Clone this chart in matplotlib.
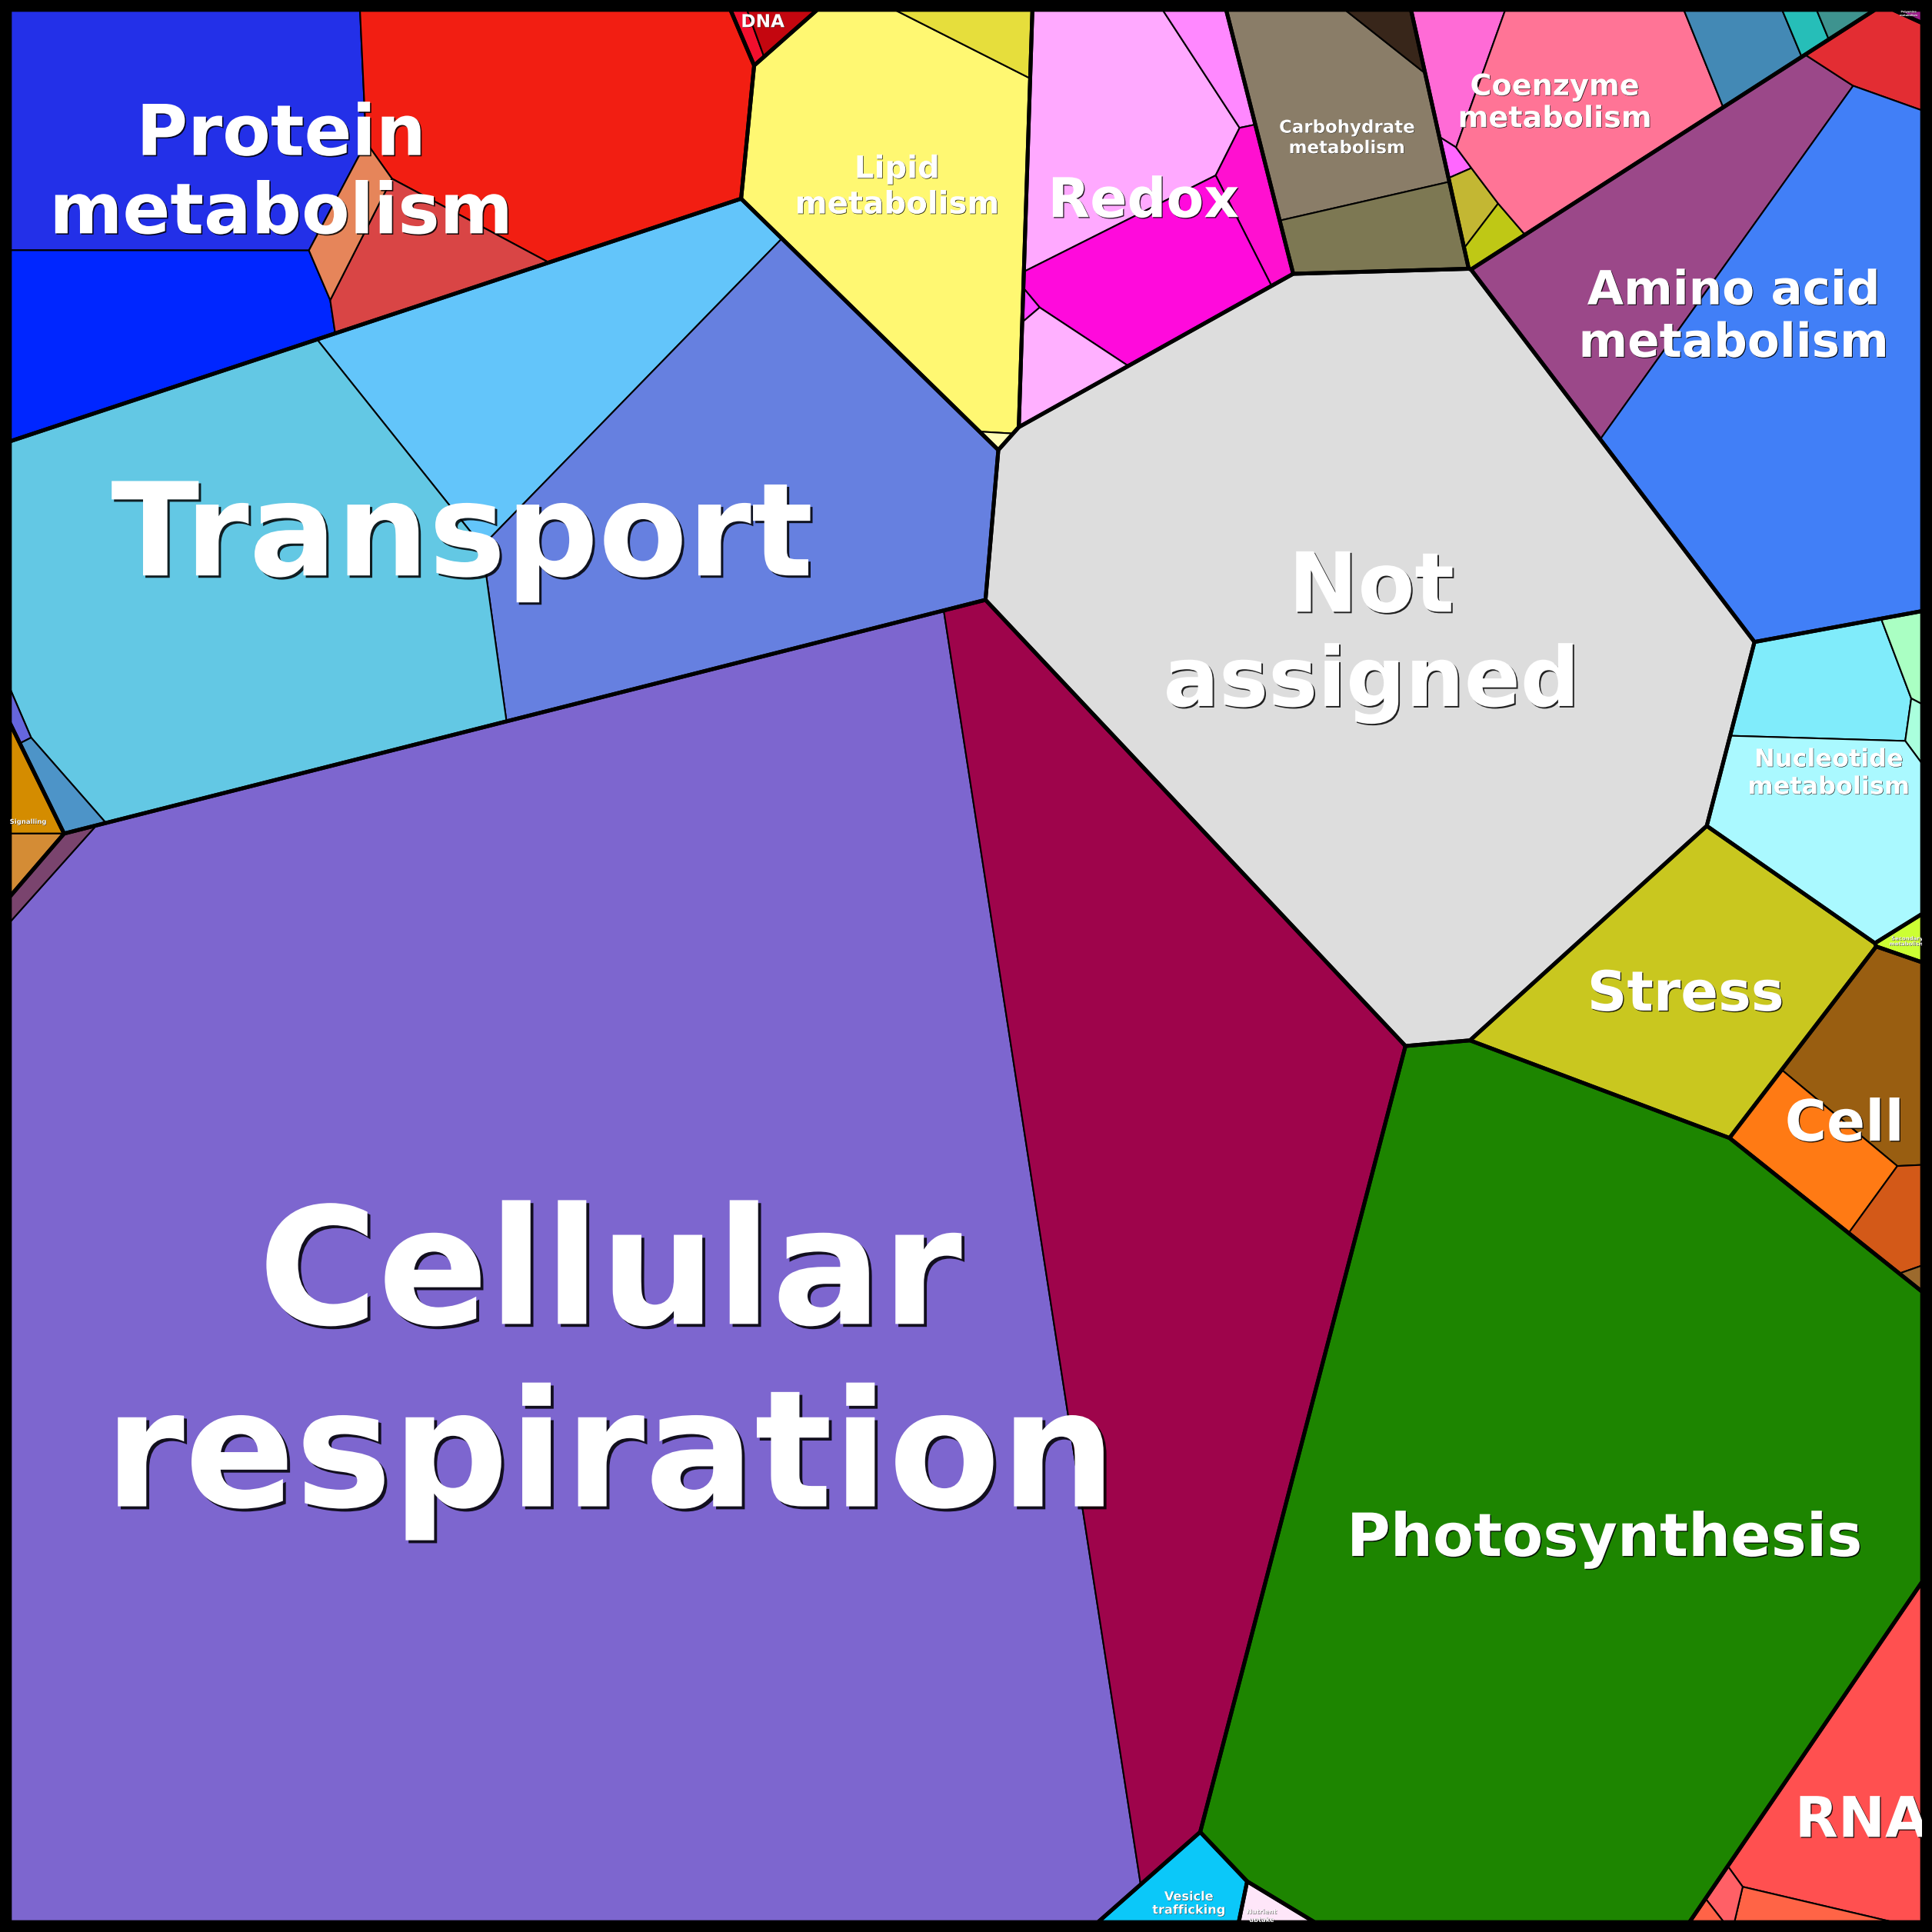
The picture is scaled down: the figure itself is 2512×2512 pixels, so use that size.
import math
import numpy as np
import matplotlib
matplotlib.use("Agg")
import matplotlib.pyplot as plt
from matplotlib.patches import Polygon, Rectangle
import matplotlib.patheffects as pe

# top level categories
groups = ["Protein metabolism", "DNA", "Lipid metabolism", "Redox",
          "Carbohydrate metabolism", "Coenzyme metabolism", "Amino acid metabolism",
          "Polyamine metabolism", "Not assigned", "Nucleotide metabolism",
          "Secondary metabolism", "Stress", "Cell", "Photosynthesis", "RNA",
          "Vesicle trafficking", "Nutrient uptake", "Cellular respiration",
          "Transport", "Signalling"]

# sub categories: parent index and share of the whole map (%)
sub_group = [0, 0, 0, 0, 0,
             1, 1,
             2, 2, 2,
             3, 3, 3, 3, 3, 3,
             4, 4, 4,
             5, 5, 5, 5, 5, 5, 5, 5,
             6, 6, 6,
             7,
             8,
             9, 9, 9, 9,
             10,
             11,
             12, 12, 12, 12,
             13,
             14, 14, 14, 14,
             15,
             16,
             17, 17, 17,
             18, 18, 18, 18, 18,
             19, 19]
sub_share = [2.242, 1.191, 2.199, 0.433, 0.144,
             0.021, 0.045,
             2.295, 0.128, 0.008,
             1.055, 0.127, 0.157, 0.695, 0.008, 0.187,
             0.890, 0.057, 0.339,
             0.201, 0.017, 0.058, 0.051, 1.066, 0.193, 0.035, 0.023,
             1.490, 0.196, 3.139,
             0.005,
             10.345,
             0.468, 0.061, 0.020, 0.881,
             0.032,
             1.760,
             0.519, 0.349, 0.138, 0.008,
             12.652,
             0.957, 0.077, 0.033, 0.011,
             0.206,
             0.043,
             33.885, 7.652, 0.052,
             1.845, 3.994, 4.756, 0.014, 0.077,
             0.082, 0.047]

# fill colours of the sub cells
sub_color = ["#2330E8", "#0026FF", "#F21E12", "#D94545", "#E6855A",
             "#F20F2D", "#C4060F",
             "#FFF872", "#E6DE3C", "#FFFDB5",
             "#FFA9FF", "#FF88FF", "#FF10D0", "#FF0ADC", "#FF40FF", "#FFB0FF",
             "#8A7D68", "#38261A", "#7D7853",
             "#FF6BD6", "#FF66FF", "#C3B733", "#BFC815", "#FF7496", "#4389B5", "#26BEB8", "#3E938F",
             "#9B4889", "#E32D33", "#417FF7",
             "#A01E8C",
             "#DDDDDD",
             "#80ECFB", "#AAFFC3", "#AAFFDD", "#AAF9FF",
             "#CCFF33",
             "#C9C71F",
             "#995E11", "#FF7A14", "#D35918", "#9C6A2D",
             "#1D8500",
             "#FF5050", "#FF6446", "#FF6066", "#FF6347",
             "#0BC8F9",
             "#FEE6F9",
             "#7D66CF", "#9E044B", "#7A446E",
             "#63C5FA", "#6680E0", "#63C8E4", "#6666DD", "#4D94C8",
             "#D48C00", "#D48C35"]

# centre of gravity of each sub cell on the 1568 px canvas (layout hint)
sub_center = [(147, 103), (120, 262), (454, 95), (340, 211), (284, 178),
              (605, 28), (629, 20),
              (733, 156), (800, 27), (809, 358),
              (903, 101), (987, 46), (1018, 165), (935, 223), (835, 248), (858, 298),
              (1083, 90), (1132, 24), (1119, 191),
              (1181, 50), (1179, 130), (1193, 165), (1210, 193), (1282, 84), (1413, 39), (1465, 24), (1493, 16),
              (1342, 196), (1524, 46), (1462, 320),
              (1552, 11),
              (1119, 511),
              (1480, 558), (1548, 527), (1553, 592), (1484, 667),
              (1545, 762),
              (1369, 802),
              (1518, 857), (1471, 934), (1537, 990), (1553, 1037),
              (1272, 1231),
              (1504, 1458), (1453, 1550), (1399, 1537), (1383, 1552),
              (962, 1533),
              (1027, 1548),
              (445, 1089), (947, 965), (38, 706),
              (439, 289), (603, 411), (194, 479), (15, 586), (50, 642),
              (23, 647), (23, 694)]

labels = ["Protein\nmetabolism", "DNA", "Lipid\nmetabolism", "Redox",
          "Carbohydrate\nmetabolism", "Coenzyme\nmetabolism", "Amino acid\nmetabolism",
          "Polyamine\nmetabolism", "Not\nassigned", "Nucleotide\nmetabolism",
          "Secondary\nmetabolism", "Stress", "Cell", "Photosynthesis", "RNA",
          "Vesicle\ntrafficking", "Nutrient\nuptake", "Cellular\nrespiration",
          "Transport", "Signalling"]
label_xy = [(228, 142), (619, 18), (728, 152), (928, 164), (1093, 112), (1262, 84),
            (1407, 258), (1549, 11), (1113, 516), (1484, 628), (1548, 764),
            (1368, 808), (1497, 913), (1302, 1250), (1511, 1478), (965, 1545),
            (1024, 1555), (495, 1112), (375, 438), (23, 667)]
label_size = [26.3, 6.7, 11.6, 20.5, 6.6, 11.0, 17.6, 0.9, 31, 9.2, 2.0,
              20.7, 21.3, 22.3, 21, 4.65, 2.4, 61, 48.5, 2.45]

SIZE = 1568
PAD = 8


def clip_halfplane(pts, labs, a, b, lab):
    # keep the part of a convex polygon where a.x <= b
    n = len(pts)
    v = [p[0] * a[0] + p[1] * a[1] - b for p in pts]
    out, out_l = [], []
    for k in range(n):
        p, q = pts[k], pts[(k + 1) % n]
        vp, vq = v[k], v[(k + 1) % n]
        if vp <= 0:
            out.append(p)
            out_l.append(labs[k])
            if vq > 0:
                t = vp / (vp - vq)
                out.append((p[0] + t * (q[0] - p[0]), p[1] + t * (q[1] - p[1])))
                out_l.append(lab)
        elif vq <= 0:
            t = vp / (vp - vq)
            out.append((p[0] + t * (q[0] - p[0]), p[1] + t * (q[1] - p[1])))
            out_l.append(labs[k])
    return out, out_l


def power_cells(seeds, w, boundary):
    n = len(seeds)
    sq = [x * x + y * y for x, y in seeds]
    cells = []
    for i in range(n):
        pts, labs = list(boundary), [-1] * len(boundary)
        xi, yi = seeds[i]
        for j in range(n):
            if j == i:
                continue
            xj, yj = seeds[j]
            a = (2 * (xj - xi), 2 * (yj - yi))
            b = sq[j] - sq[i] + w[i] - w[j]
            pts, labs = clip_halfplane(pts, labs, a, b, j)
            if not pts:
                break
        cells.append((pts, labs))
    return cells


def area_centroid(pts):
    if len(pts) < 3:
        return 0.0, None
    s = cx = cy = 0.0
    for k in range(len(pts)):
        x0, y0 = pts[k]
        x1, y1 = pts[(k + 1) % len(pts)]
        c = x0 * y1 - x1 * y0
        s += c
        cx += (x0 + x1) * c
        cy += (y0 + y1) * c
    if abs(s) < 1e-12:
        return 0.0, None
    return abs(s) / 2, (cx / (3 * s), cy / (3 * s))


def fit_cells(centers, targets, boundary, iters=1500, move=0.25):
    # power diagram whose cells get the target areas and sit around the given centres
    n = len(centers)
    if n == 1:
        return [list(boundary)]
    C = np.array(centers, float)
    S = C.copy()
    targets = np.asarray(targets, float)
    w = np.zeros(n)
    best = None
    for it in range(iters):
        cells = power_cells([tuple(s) for s in S], w, boundary)
        ac = [area_centroid(c[0]) for c in cells]
        areas = np.array([a for a, _ in ac])
        cen = np.array([c if c is not None else (np.nan, np.nan) for _, c in ac], float)
        area_err = (np.abs(areas - targets) / targets).max()
        shift = np.nan_to_num(C - cen)
        score = area_err + np.abs(shift).max() / 40
        if areas.min() > 0 and (best is None or score < best[0]):
            best = (score, [c[0] for c in cells])
        if area_err < 1e-3 and np.abs(shift).max() < 0.3:
            break
        new_w = w.copy()
        for i, (pts, labs) in enumerate(cells):
            deriv = 0.0
            m = len(pts)
            for k in range(m):
                j = labs[k]
                if j < 0:
                    continue
                p, q = pts[k], pts[(k + 1) % m]
                L = math.hypot(q[0] - p[0], q[1] - p[1])
                deriv += L / (2 * max(math.hypot(S[i, 0] - S[j, 0], S[i, 1] - S[j, 1]), 1e-6))
            if areas[i] <= 0 or deriv <= 0:
                d2 = ((S - S[i]) ** 2).sum(1)
                d2[i] = np.inf
                new_w[i] = max(w[i], (w - d2).max()) + 0.5 * targets[i]
            else:
                new_w[i] = w[i] + 0.5 * (targets[i] - areas[i]) / deriv
        w = new_w
        if area_err < 0.05 and areas.min() > 0:
            # nudge the seeds towards where their cell centre should be,
            # keeping the power of each cell at its centre unchanged
            d = move * shift
            for i in range(n):
                c0 = cen[i]
                w[i] += ((c0 - S[i] - d[i]) ** 2).sum() - ((c0 - S[i]) ** 2).sum()
            S = S + d
        w = w - w.mean()
    if best is None:
        return [c[0] for c in cells]
    return best[1]


share = np.array(sub_share)
sg = np.array(sub_group)
centers = np.array(sub_center, float)
n_groups = len(groups)
group_share = np.array([share[sg == g].sum() for g in range(n_groups)])
group_center = [tuple((centers[sg == g] * share[sg == g, None]).sum(0) / group_share[g])
                for g in range(n_groups)]

square = [(PAD, PAD), (SIZE - PAD, PAD), (SIZE - PAD, SIZE - PAD), (PAD, SIZE - PAD)]
square_area = (SIZE - 2 * PAD) ** 2
group_polys = fit_cells(group_center, group_share / group_share.sum() * square_area, square)

fig = plt.figure(figsize=(2512 / 250, 2512 / 250), dpi=250, facecolor="black")
ax = fig.add_axes([0, 0, 1, 1])
ax.set_xlim(0, SIZE)
ax.set_ylim(SIZE, 0)
ax.set_facecolor("black")
ax.axis("off")

for g in range(n_groups):
    idx = np.where(sg == g)[0]
    gpoly = group_polys[g]
    garea, _ = area_centroid(gpoly)
    if garea <= 0:
        continue
    sub_polys = fit_cells([tuple(centers[i]) for i in idx],
                          share[idx] / share[idx].sum() * garea, gpoly)
    for i, sp in zip(idx, sub_polys):
        if len(sp) < 3:
            continue
        ax.add_patch(Polygon(sp, closed=True, fc=sub_color[i], ec="black",
                             lw=0.6, joinstyle="round"))

for gpoly in group_polys:
    if len(gpoly) >= 3:
        ax.add_patch(Polygon(gpoly, closed=True, fill=False, ec="black",
                             lw=1.45, joinstyle="round"))

inner = Rectangle((PAD, PAD), SIZE - 2 * PAD, SIZE - 2 * PAD, transform=ax.transData)
for text, (x, y), fs in zip(labels, label_xy, label_size):
    t = ax.text(x, y, text, ha="center", va="center", fontsize=fs,
                fontweight="bold", color="white", family="DejaVu Sans",
                multialignment="center", clip_on=True)
    off = max(fs * 0.018, 0.12)
    t.set_path_effects([pe.SimplePatchShadow(offset=(off, -off), shadow_rgbFace="black", alpha=0.85),
                        pe.Normal()])
    t.set_clip_path(inner)

fig.savefig("out.png", dpi=250, facecolor="black")
